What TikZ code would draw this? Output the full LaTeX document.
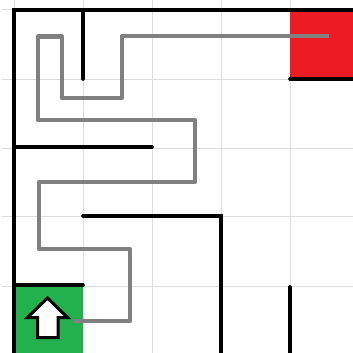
\documentclass[tikz,border=0pt]{standalone}
\definecolor{gridc}{HTML}{DDDDDD}
\definecolor{pathc}{HTML}{808080}
\definecolor{goalred}{HTML}{ED1C24}
\definecolor{startgreen}{HTML}{22B14C}
\tikzset{
  gridline/.style={draw=gridc, line width=1pt},
  wall/.style={draw=black, line width=3.6pt, line cap=round},
  route/.style={draw=pathc, line width=4.2pt, line join=round},
  arrowshape/.style={fill=white, draw=black, line width=3pt, line join=miter},
}
\begin{document}
\begin{tikzpicture}[x=1pt,y=-1pt]
\useasboundingbox (0,0) rectangle (353,353);
\fill[white] (0,0) rectangle (353,353);
% grid
\foreach \v in {14,83,152,221,290} {\draw[gridline] (\v,0) -- (\v,353);}
\foreach \v in {10,79,148,216,286} {\draw[gridline] (2,\v) -- (353,\v);}
% cells
\fill[goalred] (290,10) rectangle (353,79);
\fill[startgreen] (14,285) rectangle (83,353);
% route
\coordinate (start) at (73,321);
\coordinate (goal) at (329,36);
\draw[route] (start) -- (130,321) -- (130,249) -- (39,249) -- (39,182) -- (195,182) -- (195,120) -- (38,120) -- (38,36.5) -- (62,36.5) -- (62,98) -- (122,98) -- (122,36) -- (goal);
% walls
\draw[wall] (353,10) -- (14,10) -- (14,356);
\draw[wall] (83,10) -- (83,79);
\draw[wall] (14,147) -- (152,147);
\draw[wall] (290,79) -- (356,79);
\draw[wall] (83,216) -- (221,216) -- (221,356);
\draw[wall] (290,287) -- (290,356);
\draw[wall] (14,285) -- (83,285);
% arrow
\draw[arrowshape] (47.5,298) -- (67.5,317.5) -- (58,317.5) -- (58,337.5) -- (37.5,337.5) -- (37.5,317.5) -- (27.5,317.5) -- cycle;
\end{tikzpicture}
\end{document}
